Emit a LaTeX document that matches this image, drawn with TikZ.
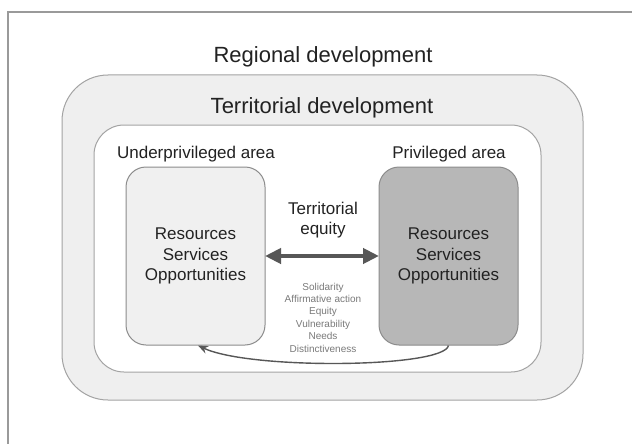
\documentclass[tikz,border=0pt]{standalone}
\usepackage{fontspec}
\setmainfont{Liberation Sans}
\usetikzlibrary{arrows.meta}
\definecolor{txt}{HTML}{222222}
\definecolor{smalltxt}{HTML}{7A7A7A}
\definecolor{framec}{HTML}{9A9A9A}
\definecolor{outerfill}{HTML}{EFEFEF}
\definecolor{outerline}{HTML}{A3A3A3}
\definecolor{lboxfill}{HTML}{F0F0F0}
\definecolor{rboxfill}{HTML}{B7B7B7}
\definecolor{boxline}{HTML}{8C8C8C}
\definecolor{arrowc}{HTML}{575757}
\tikzset{
  bigtitle/.style={text=txt, inner sep=0pt, anchor=base, font=\fontsize{22}{26}\selectfont},
  areatitle/.style={text=txt, inner sep=0pt, anchor=base, font=\fontsize{17}{20}\selectfont},
  areabox/.style={draw=boxline, line width=1pt, rounded corners=20pt, minimum width=139pt, minimum height=178pt, text=txt, align=center, font=\fontsize{17}{20.5}\selectfont},
  equitytxt/.style={text=txt, inner sep=0pt, align=center, font=\fontsize{17}{20}\selectfont},
  smalllist/.style={text=smalltxt, inner sep=0pt, align=center, font=\fontsize{10}{12.4}\selectfont},
  bigarrow/.style={arrowc, line width=4.7pt, {Triangle[length=16pt,width=15pt]}-{Triangle[length=16pt,width=15pt]}, shorten <=-0.5pt, shorten >=-0.5pt},
  flowarrow/.style={arrowc, line width=1.4pt, -{Stealth[length=10pt,width=8pt]}}
}
\begin{document}
\begin{tikzpicture}[x=1pt,y=-1pt]
\useasboundingbox (0,0) rectangle (632,444);
\fill[white] (0,0) rectangle (632,444);
% outer frame (only top and left edges visible)
\draw[framec, line width=1.6pt] (8,444) -- (8,12) -- (632,12);
% territorial development rounded area
\draw[draw=outerline, fill=outerfill, line width=1pt, rounded corners=46pt] (62,75) rectangle (583,400);
% inner white area
\draw[draw=outerline, fill=white, line width=1pt, rounded corners=30pt] (94,125) rectangle (541,372);
% titles
\node[bigtitle] (regional) at (323,62.7) {Regional development};
\node[bigtitle] (territorial) at (322,113.3) {Territorial development};
\node[areatitle] (under) at (196,158.3) {Underprivileged area};
\node[areatitle] (priv) at (449,158.3) {Privileged area};
% boxes
\node[areabox, fill=lboxfill] (lbox) at (195.5,256) {Resources\\Services\\Opportunities};
\node[areabox, fill=rboxfill] (rbox) at (448.5,256) {Resources\\Services\\Opportunities};
% territorial equity
\node[equitytxt] (equity) at (323,220.6) {Territorial\\equity};
\draw[bigarrow] (lbox) -- (rbox);
% list of principles
\node[smalllist] (principles) at (323,317.5) {Solidarity\\Affirmative action\\Equity\\Vulnerability\\Needs\\Distinctiveness};
% redistribution arrow
\draw[flowarrow] (rbox.south) .. controls (444,368) and (250,370) .. ([xshift=2.5pt]lbox.south);
\end{tikzpicture}
\end{document}
